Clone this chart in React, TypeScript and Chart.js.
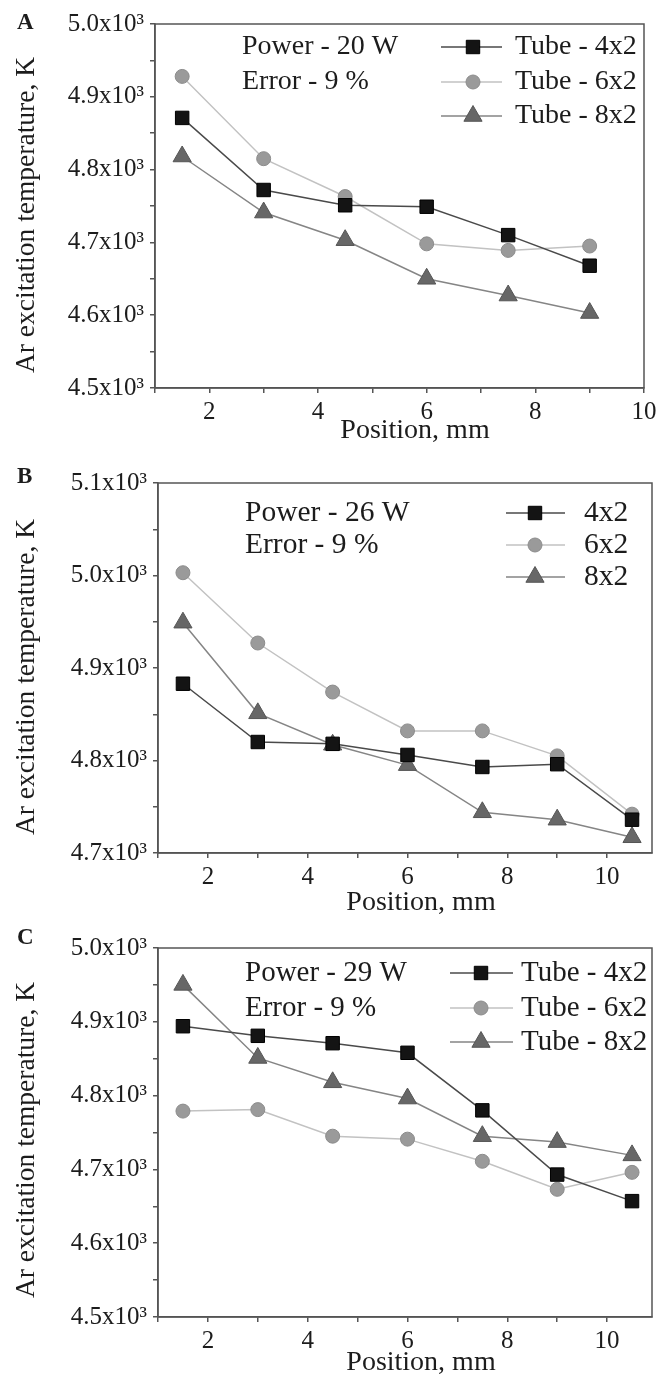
import React, { useEffect, useRef } from 'react';
import { Chart, registerables } from 'chart.js';

Chart.register(...registerables);

// ---------------- data ----------------
const positionsA = [1.5, 3, 4.5, 6, 7.5, 9];
const positionsBC = [1.5, 3, 4.5, 6, 7.5, 9, 10.5];

const tubeA_4x2 = [4871, 4772, 4751, 4749, 4710, 4668];
const tubeA_6x2 = [4928, 4815, 4763, 4698, 4689, 4695];
const tubeA_8x2 = [4818, 4741, 4703, 4650, 4627, 4603];

const tubeB_4x2 = [4883, 4820, 4818, 4806, 4793, 4796, 4736];
const tubeB_6x2 = [5003, 4927, 4874, 4832, 4832, 4805, 4742];
const tubeB_8x2 = [4949, 4851, 4817, 4795, 4744, 4736, 4717];

const tubeC_4x2 = [4894, 4881, 4871, 4858, 4780, 4693, 4657];
const tubeC_6x2 = [4779, 4781, 4745, 4741, 4711, 4673, 4696];
const tubeC_8x2 = [4950, 4851, 4818, 4796, 4745, 4737, 4719];

const legendLong = ['Tube - 4x2', 'Tube - 6x2', 'Tube - 8x2'];
const legendShort = ['4x2', '6x2', '8x2'];
const powerA = 'Power - 20 W';
const powerB = 'Power - 26 W';
const powerC = 'Power - 29 W';
const errorText = 'Error - 9 %';
const yAxisTitle = 'Ar excitation temperature, K';
const xAxisTitle = 'Position, mm';

// ---------------- styles ----------------
const SERIF = '"Liberation Serif", "Times New Roman", "DejaVu Serif", serif';
const TEXT = '#1c1c1c';
const AXIS = '#555555';

const seriesStyles = [
  { pointStyle: 'rect', radius: 9.5, fill: '#141414', border: '#000000', line: '#4a4a4a' },
  { pointStyle: 'circle', radius: 7, fill: '#9a9a9a', border: '#8c8c8c', line: '#c2c2c2' },
  { pointStyle: 'triangle', radius: 10.5, fill: '#676767', border: '#555555', line: '#858585' },
];

type PanelLayout = {
  letter: string;
  top: number;
  height: number;
  area: { left: number; right: number; top: number; bottom: number };
  xMax: number;
  yMin: number;
  yMax: number;
  textSize: number;
  legend: { x0: number; xm: number; x1: number; tx: number; rows: number[] };
  note: { x: number; rows: number[] };
  letterPos: { x: number; y: number };
  xTitle: { x: number; y: number };
  yTitle: { x: number; y: number };
};

const W = 656;

const panels: { layout: PanelLayout; x: number[]; series: number[][]; labels: string[]; power: string }[] = [
  {
    layout: {
      letter: 'A', top: 0, height: 460,
      area: { left: 155, right: 644, top: 24, bottom: 388 },
      xMax: 10, yMin: 4500, yMax: 5000, textSize: 28,
      legend: { x0: 441, xm: 473, x1: 502, tx: 515, rows: [47, 82, 116] },
      note: { x: 242, rows: [47, 82] },
      letterPos: { x: 17, y: 23 },
      xTitle: { x: 415, y: 431 },
      yTitle: { x: 27, y: 215 },
    },
    x: positionsA, series: [tubeA_4x2, tubeA_6x2, tubeA_8x2], labels: legendLong, power: powerA,
  },
  {
    layout: {
      letter: 'B', top: 460, height: 460,
      area: { left: 158, right: 652, top: 23, bottom: 393 },
      xMax: 10.9, yMin: 4700, yMax: 5100, textSize: 29.5,
      legend: { x0: 506, xm: 535, x1: 565, tx: 584, rows: [53, 85, 117] },
      note: { x: 245, rows: [53, 85] },
      letterPos: { x: 17, y: 17 },
      xTitle: { x: 421, y: 443 },
      yTitle: { x: 27, y: 217 },
    },
    x: positionsBC, series: [tubeB_4x2, tubeB_6x2, tubeB_8x2], labels: legendShort, power: powerB,
  },
  {
    layout: {
      letter: 'C', top: 920, height: 467,
      area: { left: 158, right: 652, top: 28, bottom: 397 },
      xMax: 10.9, yMin: 4500, yMax: 5000, textSize: 29,
      legend: { x0: 450, xm: 481, x1: 513, tx: 521, rows: [53, 88, 122] },
      note: { x: 245, rows: [53, 88] },
      letterPos: { x: 17, y: 18 },
      xTitle: { x: 421, y: 443 },
      yTitle: { x: 27, y: 220 },
    },
    x: positionsBC, series: [tubeC_4x2, tubeC_6x2, tubeC_8x2], labels: legendLong, power: powerC,
  },
];

function drawMarker(ctx: CanvasRenderingContext2D, style: string, x: number, y: number, r: number) {
  ctx.beginPath();
  if (style === 'rect') {
    const s = Math.SQRT1_2 * r;
    ctx.rect(x - s, y - s, 2 * s, 2 * s);
  } else if (style === 'circle') {
    ctx.arc(x, y, r, 0, Math.PI * 2);
  } else {
    ctx.moveTo(x, y - r);
    ctx.lineTo(x + r * Math.sin((2 * Math.PI) / 3), y - r * Math.cos((2 * Math.PI) / 3));
    ctx.lineTo(x + r * Math.sin((4 * Math.PI) / 3), y - r * Math.cos((4 * Math.PI) / 3));
    ctx.closePath();
  }
  ctx.fill();
  ctx.stroke();
}

function Panel({ p }: { p: (typeof panels)[number] }) {
  const ref = useRef<HTMLCanvasElement | null>(null);
  useEffect(() => {
    if (!ref.current) return;
    const L = p.layout;
    const overlay = {
      id: 'overlay',
      afterDraw(chart: any) {
        const ctx: CanvasRenderingContext2D = chart.ctx;
        const a = chart.chartArea;
        ctx.save();
        // frame
        ctx.strokeStyle = AXIS;
        ctx.lineWidth = 1.5;
        ctx.strokeRect(a.left, a.top, a.right - a.left, a.bottom - a.top);
        // panel letter
        ctx.fillStyle = TEXT;
        ctx.font = `bold 23px ${SERIF}`;
        ctx.textBaseline = 'middle';
        ctx.textAlign = 'left';
        ctx.fillText(L.letter, L.letterPos.x, L.letterPos.y);
        // axis titles
        ctx.font = `28px ${SERIF}`;
        ctx.textAlign = 'center';
        ctx.fillText(xAxisTitle, L.xTitle.x, L.xTitle.y);
        ctx.save();
        ctx.translate(L.yTitle.x, L.yTitle.y);
        ctx.rotate(-Math.PI / 2);
        ctx.font = `27.5px ${SERIF}`;
        ctx.fillText(yAxisTitle, 0, 0);
        ctx.restore();
        // notes
        ctx.textAlign = 'left';
        ctx.font = `${L.textSize}px ${SERIF}`;
        ctx.fillText(p.power, L.note.x, L.note.rows[0]);
        ctx.fillText(errorText, L.note.x, L.note.rows[1]);
        // legend
        p.labels.forEach((lab, i) => {
          const st = seriesStyles[i];
          const y = L.legend.rows[i];
          ctx.strokeStyle = st.line;
          ctx.lineWidth = 1.5;
          ctx.beginPath();
          ctx.moveTo(L.legend.x0, y);
          ctx.lineTo(L.legend.x1, y);
          ctx.stroke();
          ctx.fillStyle = st.fill;
          ctx.strokeStyle = st.border;
          ctx.lineWidth = 1;
          drawMarker(ctx, st.pointStyle, L.legend.xm, y, st.radius);
          ctx.fillStyle = TEXT;
          ctx.fillText(lab, L.legend.tx, y);
        });
        ctx.restore();
      },
    };

    const chart = new Chart(ref.current, {
      type: 'line',
      data: {
        datasets: p.series.map((vals, i) => {
          const st = seriesStyles[i];
          return {
            label: p.labels[i],
            data: vals.map((v, j) => ({ x: p.x[j], y: v })),
            borderColor: st.line,
            borderWidth: 1.5,
            pointStyle: st.pointStyle as any,
            pointRadius: st.radius,
            pointBackgroundColor: st.fill,
            pointBorderColor: st.border,
            pointBorderWidth: 1,
            tension: 0,
            clip: false as any,
          };
        }),
      },
      options: {
        responsive: false,
        animation: false,
        devicePixelRatio: 1,
        layout: { autoPadding: false, padding: { left: 0, top: L.area.top, right: W - L.area.right, bottom: 0 } },
        plugins: { legend: { display: false }, tooltip: { enabled: false }, title: { display: false } },
        scales: {
          x: {
            type: 'linear',
            min: 1,
            max: L.xMax,
            afterFit: (s: any) => {
              s.height = L.height - L.area.bottom;
              s.paddingLeft = 0;
              s.paddingRight = 0;
            },
            ticks: {
              stepSize: 1,
              includeBounds: false,
              autoSkip: false,
              maxRotation: 0,
              padding: 4,
              color: TEXT,
              font: { family: SERIF, size: 25 },
              callback: (v: any) => (Number(v) % 2 === 0 ? String(v) : ''),
            },
            grid: { drawOnChartArea: false, drawTicks: true, tickLength: 5, color: AXIS, lineWidth: 1.5 },
            border: { color: AXIS, width: 1.5 },
            title: { display: false },
          },
          y: {
            type: 'linear',
            min: L.yMin,
            max: L.yMax,
            afterFit: (s: any) => {
              s.width = L.area.left;
              s.paddingTop = 0;
              s.paddingBottom = 0;
            },
            ticks: {
              stepSize: 50,
              autoSkip: false,
              padding: 6,
              color: TEXT,
              font: { family: SERIF, size: 25 },
              callback: (v: any) => (Number(v) % 100 === 0 ? (Number(v) / 1000).toFixed(1) + 'x10³' : ''),
            },
            grid: { drawOnChartArea: false, drawTicks: true, tickLength: 5, color: AXIS, lineWidth: 1.5 },
            border: { color: AXIS, width: 1.5 },
            title: { display: false },
          },
        },
      },
      plugins: [overlay],
    } as any);
    return () => chart.destroy();
  }, [p]);
  return (
    <div style={{ position: 'absolute', left: 0, top: p.layout.top, width: W, height: p.layout.height }}>
      <canvas ref={ref} width={W} height={p.layout.height} style={{ display: 'block' }} />
    </div>
  );
}

export default function App() {
  return (
    <div style={{ position: 'absolute', left: 0, top: 0, width: W, height: 1387, background: '#ffffff', overflow: 'hidden' }}>
      {panels.map((p) => (
        <Panel key={p.layout.letter} p={p} />
      ))}
    </div>
  );
}
